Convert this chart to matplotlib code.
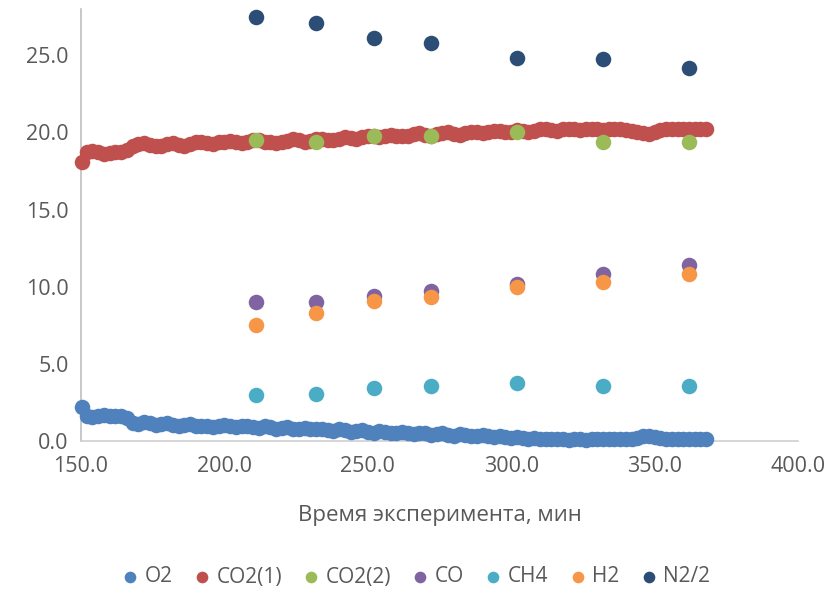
import matplotlib
matplotlib.use("Agg")
import matplotlib.pyplot as plt
import numpy as np
from matplotlib.ticker import FormatStrFormatter

plt.rcParams['font.family'] = ['Open Sans', 'DejaVu Sans']

# continuous measurements (every ~2 min)
TIME_CONT = [150.5] + list(range(152, 370, 2))

O2 = [2.2,
      1.6, 1.55, 1.6, 1.7, 1.65, 1.6, 1.6, 1.5,
      1.15, 1.1, 1.2, 1.15, 1.05, 1.1, 1.15, 1.05, 1.0, 1.05, 1.1, 1.0, 0.95, 1.0, 0.9, 1.0,
      1.05, 1.0, 0.9, 0.95, 1.0, 0.9, 0.85, 0.95, 0.9, 0.8, 0.85, 0.9, 0.8, 0.75, 0.85, 0.8,
      0.75, 0.8, 0.7, 0.65, 0.75, 0.7, 0.6, 0.65, 0.7, 0.6, 0.55, 0.65, 0.6, 0.5, 0.55, 0.6,
      0.5, 0.45, 0.55, 0.5, 0.4, 0.45, 0.5, 0.4, 0.35, 0.45, 0.4, 0.3, 0.35, 0.4, 0.3, 0.25,
      0.3, 0.25, 0.2, 0.25, 0.2, 0.15, 0.2, 0.15, 0.1, 0.15, 0.1, 0.1, 0.05, 0.1, 0.1, 0.05,
      0.1, 0.1, 0.1, 0.1, 0.1, 0.1, 0.1, 0.15, 0.2, 0.3, 0.3, 0.25, 0.2, 0.15, 0.1, 0.1,
      0.1, 0.1, 0.1, 0.1, 0.1]

CO2_1 = [18.1,
         18.75, 18.8, 18.7, 18.6, 18.65, 18.75, 18.7, 18.85,
         19.15, 19.25, 19.3, 19.2, 19.1, 19.15, 19.25, 19.3, 19.2, 19.15, 19.25, 19.35, 19.4, 19.3, 19.25, 19.35,
         19.4, 19.45, 19.35, 19.3, 19.4, 19.5, 19.5, 19.4, 19.35, 19.3, 19.35, 19.45, 19.55, 19.5, 19.4, 19.45,
         19.55, 19.6, 19.5, 19.5, 19.6, 19.7, 19.65, 19.6, 19.7, 19.8, 19.75, 19.7, 19.75, 19.85, 19.8, 19.75,
         19.8, 19.9, 19.95, 19.85, 19.8, 19.9, 19.95, 20.0, 19.9, 19.85, 19.95, 20.05, 20.0, 19.95, 20.0, 20.1,
         20.1, 20.0, 20.05, 20.15, 20.1, 20.05, 20.1, 20.2, 20.2, 20.15, 20.1, 20.2, 20.25, 20.2, 20.15, 20.2,
         20.25, 20.2, 20.15, 20.2, 20.25, 20.2, 20.15, 20.1, 20.0, 19.95, 19.9, 20.05, 20.15, 20.2, 20.25, 20.2,
         20.2, 20.2, 20.2, 20.2, 20.2]

# discrete samples
TIME_SAMPLE = [211, 232, 252, 272, 302, 332, 362]
CO2_2 = [19.5, 19.35, 19.8, 19.76, 20.05, 19.4, 19.4]
CO = [9.0, 9.0, 9.4, 9.75, 10.2, 10.8, 11.4]
CH4 = [2.95, 3.05, 3.45, 3.55, 3.75, 3.55, 3.55]
H2 = [7.55, 8.3, 9.1, 9.35, 10.0, 10.3, 10.8]
N2_HALF = [27.45, 27.1, 26.15, 25.8, 24.8, 24.75, 24.2]

COLORS = {"O2": "#4F81BD", "CO2(1)": "#C0504D", "CO2(2)": "#9BBB59",
          "CO": "#8064A2", "CH4": "#4BACC6", "H2": "#F79646", "N2/2": "#2C4D75"}

fig = plt.figure(figsize=(8.32, 5.90), dpi=100)
ax = fig.add_axes([81 / 832, 1 - 441 / 590, (798 - 81) / 832, (441 - 9) / 590])

series = [
    ("O2", TIME_CONT, O2),
    ("CO2(1)", TIME_CONT, CO2_1),
    ("CO2(2)", TIME_SAMPLE, CO2_2),
    ("CO", TIME_SAMPLE, CO),
    ("CH4", TIME_SAMPLE, CH4),
    ("H2", TIME_SAMPLE, H2),
    ("N2/2", TIME_SAMPLE, N2_HALF),
]
for name, xs, ys in series:
    ax.scatter(xs, ys, s=125, color=COLORS[name], label=name,
               linewidths=0, clip_on=False, zorder=3)

ax.set_xlim(150, 400)
ax.set_ylim(0, 28)
ax.set_xticks(np.arange(150, 401, 50))
ax.set_yticks(np.arange(0, 26, 5))
ax.xaxis.set_major_formatter(FormatStrFormatter("%.1f"))
ax.yaxis.set_major_formatter(FormatStrFormatter("%.1f"))
ax.tick_params(axis="both", length=0, labelsize=15.5, labelcolor="#595959")
ax.tick_params(axis="x", pad=11)
ax.tick_params(axis="y", pad=9)

for side in ["top", "right"]:
    ax.spines[side].set_visible(False)
ax.spines["left"].set_color("#BFBFBF")
ax.spines["bottom"].set_color("#D0D0D0")
ax.spines["left"].set_linewidth(1.2)
ax.spines["bottom"].set_linewidth(1.2)

ax.set_xlabel("Время эксперимента, мин", fontsize=16, color="#595959", labelpad=20)

fig.legend(loc="center", bbox_to_anchor=(0.5, 1 - 577 / 590), ncol=7,
           frameon=False, fontsize=15, labelcolor="#595959",
           markerscale=0.75, handlelength=0.8, handletextpad=0.3,
           columnspacing=1.0)

fig.savefig("out.png", dpi=100)
